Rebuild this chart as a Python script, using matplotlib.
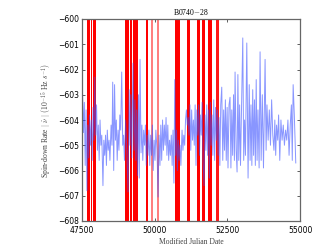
import numpy as np
from matplotlib import pyplot as plt

# spin-down rate series (MJD, nu-dot in 1e-15 Hz/s)
mjd = [47520, 47550, 47580, 47610, 47640, 47670, 47700, 47730, 47760, 47790,
       47820, 47850, 47880, 47910, 47940, 47970, 48000, 48030, 48060, 48090,
       48120, 48150, 48180, 48220, 48250, 48280, 48310, 48340, 48370, 48400,
       48430, 48460, 48500, 48530, 48556, 48590, 48620, 48650, 48680, 48710,
       48740, 48770, 48800, 48830, 48865, 48900, 48930, 48960, 49000, 49040,
       49083, 49120, 49150, 49180, 49210, 49255, 49290, 49320, 49350, 49380,
       49410, 49440, 49470, 49495, 49530, 49560, 49590, 49620, 49650, 49680,
       49710, 49740, 49770, 49800, 49830, 49860, 49890, 49920, 49950, 49980,
       50010, 50040, 50080, 50115, 50150, 50180, 50210, 50240, 50270, 50300,
       50330, 50360, 50390, 50420, 50450, 50480, 50510, 50540, 50570, 50600,
       50630, 50660, 50690, 50720, 50750, 50780, 50810, 50840, 50870, 50900,
       50940, 50970, 51000, 51030, 51060, 51090, 51120, 51150, 51180, 51210,
       51240, 51270, 51300, 51330, 51360, 51390, 51420, 51450, 51480, 51510,
       51540, 51570, 51600, 51630, 51660, 51697, 51730, 51760, 51790, 51820,
       51850, 51880, 51910, 51940, 51970, 52000, 52030, 52060, 52090, 52120,
       52150, 52180, 52210, 52240, 52270, 52305, 52340, 52370, 52400, 52430,
       52460, 52490, 52520, 52555, 52590, 52620, 52650, 52680, 52710, 52740,
       52763, 52800, 52832, 52860, 52890, 52920, 52950, 52990, 53028, 53060,
       53090, 53120, 53166, 53210, 53250, 53280, 53310, 53340, 53370, 53400,
       53430, 53460, 53490, 53520, 53550, 53590, 53623, 53660, 53700, 53740,
       53795, 53830, 53860, 53900, 53940, 53980, 54020, 54060, 54100, 54130,
       54160, 54190, 54230, 54260, 54300, 54340, 54380, 54420, 54460, 54500,
       54540, 54580, 54620, 54660, 54700, 54730, 54760, 54800, 54850]
nudot = [-603.0, -604.5, -603.3, -605.8, -603.6, -606.8, -604.2, -605.5, -603.8, -605.0,
         -604.0, -605.6, -603.5, -604.8, -602.3, -604.6, -603.4, -605.2, -604.2, -605.6,
         -604.0, -605.0, -604.6, -606.6, -604.8, -605.4, -604.6, -605.8, -604.4, -605.2,
         -604.8, -605.6, -604.2, -605.0, -602.5, -606.0, -602.6, -604.8, -604.0, -605.6,
         -604.4, -605.2, -603.8, -604.4, -602.1, -605.0, -604.6, -605.6, -604.0, -605.2,
         -606.85, -602.8, -605.0, -603.0, -605.5, -601.75, -605.2, -603.2, -605.6, -603.6,
         -606.2, -603.0, -606.3, -601.6, -605.3, -604.2, -605.6, -604.4, -605.0, -604.2,
         -605.8, -604.6, -605.4, -604.4, -605.8, -604.6, -605.4, -604.2, -606.0, -604.8,
         -605.6, -604.4, -605.2, -607.05, -604.6, -605.8, -604.2, -605.6, -604.0, -605.2,
         -604.2, -605.0, -603.9, -605.4, -604.2, -605.6, -604.8, -605.4, -604.6, -605.8,
         -604.4, -606.5, -602.4, -605.4, -604.4, -606.0, -604.8, -605.6, -605.0, -605.8,
         -604.4, -605.2, -604.6, -605.0, -604.0, -603.6, -604.2, -603.9, -604.6, -603.4,
         -605.2, -603.6, -604.8, -604.0, -605.0, -603.4, -605.8, -603.6, -604.6, -603.4,
         -605.4, -603.8, -604.6, -603.3, -605.6, -606.6, -603.8, -605.2, -603.4, -605.4,
         -603.6, -606.3, -603.3, -605.0, -603.8, -605.4, -603.2, -605.6, -603.5, -604.8,
         -603.6, -605.4, -603.9, -605.8, -603.4, -602.7, -605.6, -603.6, -605.2, -603.2,
         -605.6, -603.5, -605.9, -603.4, -603.1, -605.9, -603.6, -605.4, -603.0, -605.6,
         -602.1, -605.2, -606.06, -602.2, -605.6, -603.4, -605.8, -603.2, -600.75, -605.6,
         -604.0, -605.4, -600.95, -606.3, -602.6, -605.6, -603.4, -605.8, -602.8, -605.4,
         -603.2, -605.8, -602.4, -605.6, -603.6, -605.9, -601.3, -605.6, -603.0, -605.9,
         -601.6, -605.2, -603.4, -604.8, -603.6, -605.0, -603.2, -604.6, -605.2, -604.0,
         -605.4, -604.2, -604.8, -603.8, -605.6, -604.0, -604.8, -604.2, -605.0, -604.4,
         -604.8, -604.0, -605.4, -604.2, -603.4, -605.6, -602.6, -603.8, -605.7]

# red bands (start MJD, end MJD, opacity)
band_start = [47670, 47795, 47895, 48980, 49145, 49260, 49705, 49880, 50075,
              50690, 50795, 51095, 51440, 51635, 51820, 52105]
band_end = [47770, 47850, 47990, 49120, 49235, 49415, 49775, 49935, 50150,
            50785, 50865, 51210, 51565, 51735, 51965, 52195]
band_alpha = [1, 1, 1, 1, 1, 1, 1, 0.5, 0.5,
              1, 1, 1, 1, 1, 1, 0.9]

plt.rcParams['mathtext.fontset'] = 'cm'

fig = plt.figure(figsize=(3.32, 2.5), dpi=100)
ax = fig.add_axes([0.247, 0.116, 0.657, 0.808])

ax.plot(mjd, nudot, color='#3a50ff', alpha=0.6, lw=0.7)
for s, e, a in zip(band_start, band_end, band_alpha):
    ax.axvspan(s, e, color='red', alpha=a, lw=0)

ax.set_xlim(47500, 55000)
ax.set_ylim(-608, -600)
ax.set_xticks([47500, 50000, 52500, 55000])
ax.set_yticks(np.arange(-608, -599, 1))
ax.tick_params(direction='in', top=True, right=True, labelsize=5.5,
               length=2.5, width=0.6, color='#444444', pad=2)
ax.tick_params(axis='x', pad=3.5)
for sp in ax.spines.values():
    sp.set_color('#666666')
    sp.set_linewidth(0.9)

ax.set_title('B0740$-$28', fontsize=5.5, family='Liberation Serif', pad=3)
ax.set_xlabel('Modified Julian Date', fontsize=5.5, family='Liberation Serif',
              color='#444444', labelpad=2)
ax.set_ylabel(r'Spin-down Rate $|\ \dot{\nu}\ |$ $(10^{-15}$ Hz $s^{-1})$',
              fontsize=5.5, family='Liberation Serif', color='#444444', labelpad=3)

fig.savefig('out.png', dpi=100)
